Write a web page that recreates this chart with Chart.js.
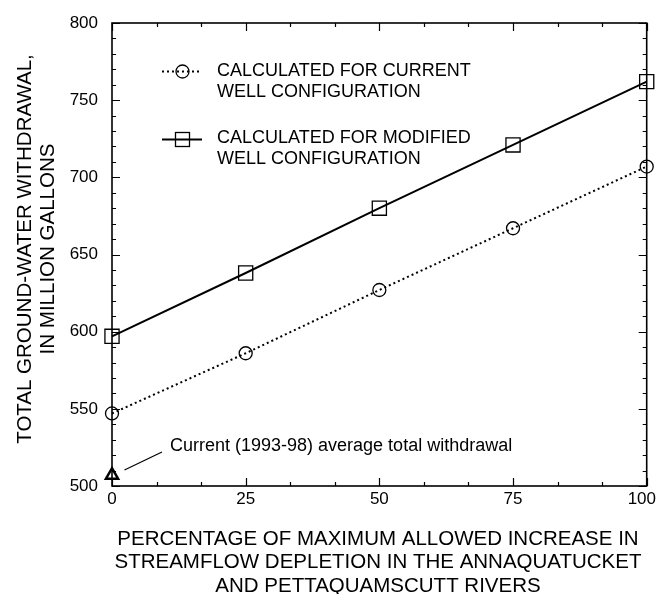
<!DOCTYPE html>
<html>
<head>
<meta charset="utf-8">
<script src="https://cdn.jsdelivr.net/npm/chart.js@4.4.1/dist/chart.umd.min.js"></script>
<style>
  html, body { margin: 0; padding: 0; background: #fff; }
  #wrap { width: 658px; height: 594px; }
</style>
</head>
<body>
<div id="wrap"><canvas id="c" width="658" height="594"></canvas></div>
<script>
// ---- data ----
const percentIncrease = [0, 25, 50, 75, 100];
const currentWellConfig = [547, 586, 627, 667, 707];
const modifiedWellConfig = [597, 638, 680, 721, 762];
const currentAvgX = [0];
const currentAvgY = [507];
const xTickValues = [0, 25, 50, 75, 100];
const yTickValues = [500, 550, 600, 650, 700, 750, 800];
const xMinorStep = 25 / 3;
const yMinorStep = 10;

const legendLabels = [
  ['CALCULATED FOR CURRENT', 'WELL CONFIGURATION'],
  ['CALCULATED FOR MODIFIED', 'WELL CONFIGURATION']
];
const xTitle = ['PERCENTAGE OF MAXIMUM ALLOWED INCREASE IN',
                'STREAMFLOW DEPLETION IN THE ANNAQUATUCKET',
                'AND PETTAQUAMSCUTT RIVERS'];
const yTitle = ['TOTAL GROUND-WATER WITHDRAWAL,', 'IN MILLION GALLONS'];
const annotationText = 'Current (1993-98) average total withdrawal';

const FONT = '"Liberation Sans", Arial, Helvetica, sans-serif';

function toPoints(xs, ys) { return xs.map((x, i) => ({ x: x, y: ys[i] })); }

const decorPlugin = {
  id: 'decor',
  beforeDraw(chart) {
    // keep the last x tick label inside the canvas, as in the reference
    const xs = chart.scales.x;
    const items = xs.getLabelItems(chart.chartArea);
    items.forEach(it => {
      if (String(it.label) === '100') {
        it.options.textAlign = 'right';
        it.options.translation[0] = 656;
      }
    });
  },
  beforeDatasetsDraw(chart) {
    const ctx = chart.ctx;
    const a = chart.chartArea;
    const xs = chart.scales.x, ys = chart.scales.y;
    ctx.save();
    ctx.strokeStyle = '#000';
    ctx.lineWidth = 1.6;
    ctx.strokeRect(a.left, a.top, a.right - a.left, a.bottom - a.top);
    ctx.lineWidth = 1.2;
    ctx.beginPath();
    for (let v = xs.min; v <= xs.max + 1e-6; v += xMinorStep) {
      const major = xTickValues.some(t => Math.abs(t - v) < 1e-6);
      const len = major ? 8 : 4;
      const px = Math.round(xs.getPixelForValue(v)) + 0.5;
      ctx.moveTo(px, a.bottom); ctx.lineTo(px, a.bottom - len);
      ctx.moveTo(px, a.top); ctx.lineTo(px, a.top + len);
    }
    for (let v = ys.min; v <= ys.max + 1e-6; v += yMinorStep) {
      const major = yTickValues.some(t => Math.abs(t - v) < 1e-6);
      const len = major ? 8 : 4;
      const py = Math.round(ys.getPixelForValue(v)) + 0.5;
      ctx.moveTo(a.left, py); ctx.lineTo(a.left + len, py);
      ctx.moveTo(a.right, py); ctx.lineTo(a.right - len, py);
    }
    ctx.stroke();
    ctx.restore();
  },
  afterDraw(chart) {
    const ctx = chart.ctx;
    ctx.save();
    ctx.fillStyle = '#000';
    ctx.strokeStyle = '#000';

    // x title
    ctx.font = '20.5px ' + FONT;
    ctx.textAlign = 'center';
    ctx.textBaseline = 'alphabetic';
    const xc = 378;
    const xBase = [545, 568, 592];
    xTitle.forEach((t, i) => ctx.fillText(t, xc, xBase[i]));

    // y title (rotated)
    ctx.save();
    ctx.translate(0, 249);
    ctx.rotate(-Math.PI / 2);
    const yBase = [30.5, 54];
    yTitle.forEach((t, i) => ctx.fillText(t, 0, yBase[i]));
    ctx.restore();

    // legend
    ctx.font = '18px ' + FONT;
    ctx.textAlign = 'left';
    const legTextX = 217;
    const legBase = [[76, 97], [143, 163.5]];
    legendLabels.forEach((lines, i) => lines.forEach((t, j) => ctx.fillText(t, legTextX, legBase[i][j])));
    const sx0 = 162, sx1 = 202, sxc = 182.5;
    ctx.lineWidth = 2;
    ctx.setLineDash([2, 3]);
    ctx.beginPath(); ctx.moveTo(sx0, 71.5); ctx.lineTo(sx1, 71.5); ctx.stroke();
    ctx.setLineDash([]);
    ctx.lineWidth = 1.3;
    ctx.beginPath(); ctx.arc(sxc, 71.5, 6.5, 0, Math.PI * 2); ctx.stroke();
    ctx.lineWidth = 2;
    ctx.beginPath(); ctx.moveTo(sx0, 139.5); ctx.lineTo(sx1, 139.5); ctx.stroke();
    ctx.lineWidth = 1.3;
    ctx.strokeRect(sxc - 7, 139.5 - 7, 14, 14);

    // annotation
    ctx.font = '18px ' + FONT;
    ctx.fillText(annotationText, 170, 450.5);
    ctx.lineWidth = 1.2;
    ctx.beginPath(); ctx.moveTo(124.5, 470); ctx.lineTo(162, 452); ctx.stroke();
    ctx.restore();
  }
};

new Chart(document.getElementById('c'), {
  type: 'line',
  data: {
    datasets: [
      {
        label: 'CALCULATED FOR CURRENT WELL CONFIGURATION',
        data: toPoints(percentIncrease, currentWellConfig),
        borderColor: '#000',
        borderWidth: 2,
        borderDash: [2, 3],
        pointStyle: 'circle',
        pointRadius: 6.5,
        pointBorderWidth: 1.3,
        pointBorderColor: '#000',
        pointBackgroundColor: 'rgba(0,0,0,0)',
        fill: false,
        tension: 0,
        clip: false
      },
      {
        label: 'CALCULATED FOR MODIFIED WELL CONFIGURATION',
        data: toPoints(percentIncrease, modifiedWellConfig),
        borderColor: '#000',
        borderWidth: 2,
        pointStyle: 'rect',
        pointRadius: 10,
        pointBorderWidth: 1.3,
        pointBorderColor: '#000',
        pointBackgroundColor: 'rgba(0,0,0,0)',
        fill: false,
        tension: 0,
        clip: false
      },
      {
        label: 'Current (1993-98) average total withdrawal',
        data: toPoints(currentAvgX, currentAvgY),
        showLine: false,
        pointStyle: 'triangle',
        pointRadius: 7,
        pointBorderWidth: 2.5,
        pointBorderColor: '#000',
        pointBackgroundColor: 'rgba(0,0,0,0)',
        clip: false
      }
    ]
  },
  options: {
    responsive: false,
    animation: false,
    devicePixelRatio: 1,
    layout: { padding: { top: 23, right: 10, left: 0, bottom: 0 } },
    plugins: { legend: { display: false }, tooltip: { enabled: false } },
    scales: {
      x: {
        type: 'linear',
        min: 0, max: 100,
        afterBuildTicks(scale) { scale.ticks = xTickValues.map(v => ({ value: v })); },
        afterFit(scale) { scale.height = 108; scale.paddingLeft = 0; scale.paddingRight = 0; },
        grid: { display: false, drawTicks: false },
        border: { display: false },
        ticks: { color: '#000', padding: 3, maxRotation: 0, autoSkip: false,
                 font: { family: FONT, size: 17 } }
      },
      y: {
        type: 'linear',
        min: 500, max: 800,
        afterBuildTicks(scale) { scale.ticks = yTickValues.map(v => ({ value: v })); },
        afterFit(scale) { scale.width = 112; scale.paddingTop = 0; scale.paddingBottom = 0; },
        grid: { display: false, drawTicks: false },
        border: { display: false },
        ticks: { color: '#000', padding: 14, autoSkip: false,
                 font: { family: FONT, size: 17 } }
      }
    }
  },
  plugins: [decorPlugin]
});
</script>
</body>
</html>
